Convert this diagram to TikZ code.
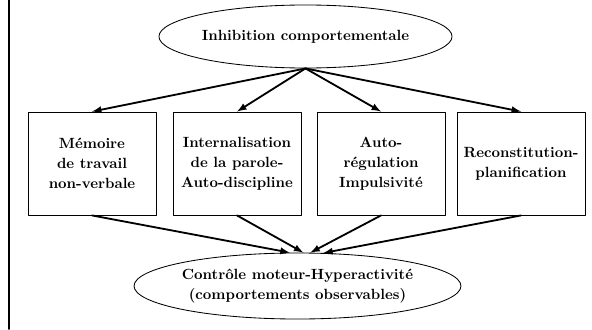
\documentclass[tikz,border=0pt]{standalone}
\usepackage{tikz}
\usetikzlibrary{arrows,shapes.geometric}
\newcommand\boitefont{\fontsize{10.5}{14.2}\selectfont\bfseries}

\begin{document}
\begin{tikzpicture}[line cap=round,line join=round,>=latex,x=0.025cm,y=-0.025cm,
  boite/.style={draw=black,line width=0.6pt,minimum width=3.2cm,minimum height=2.575cm,inner sep=0pt,align=center,font=\boitefont},
  bulle/.style={draw=black,ellipse,line width=0.6pt,inner sep=0pt,align=center,font=\boitefont},
  fleche/.style={->,line width=1.3pt}]
\useasboundingbox (0,0) rectangle (592,329);
\draw [line width=1.4pt] (9,0)-- (9,329);
% ellipses
\node[bulle,minimum width=6.675cm,minimum height=1.575cm] (inhib) at (305.5,36.5) {Inhibition comportementale};
\node[bulle,minimum width=7.125cm,minimum height=1.65cm] (ctrl) at (297.5,286) {Contr\^ole moteur-Hyperactivit\'e\\(comportements observables)};
% boites
\node[boite] (memo) at (92,163.5) {M\'emoire\\de travail\\non-verbale};
\node[boite] (parole) at (237,163.5) {Internalisation\\de la parole-\\Auto-discipline};
\node[boite] (autoreg) at (381,163.5) {Auto-\\r\'egulation\\Impulsivit\'e};
\node[boite] (recon) at (521,163.5) {Reconstitution-\\planification};
% fleches
\draw [fleche] (inhib.south) -- (memo.north);
\draw [fleche] (inhib.south) -- (parole.north);
\draw [fleche] (inhib.south) -- (autoreg.north);
\draw [fleche] (inhib.south) -- (recon.north);
\draw [fleche] (memo.south) -- (ctrl.103);
\draw [fleche] (parole.south) -- (ctrl.80);
\draw [fleche] (autoreg.south) -- (ctrl.69);
\draw [fleche] (recon.south) -- (ctrl.52);
\end{tikzpicture}
\end{document}
